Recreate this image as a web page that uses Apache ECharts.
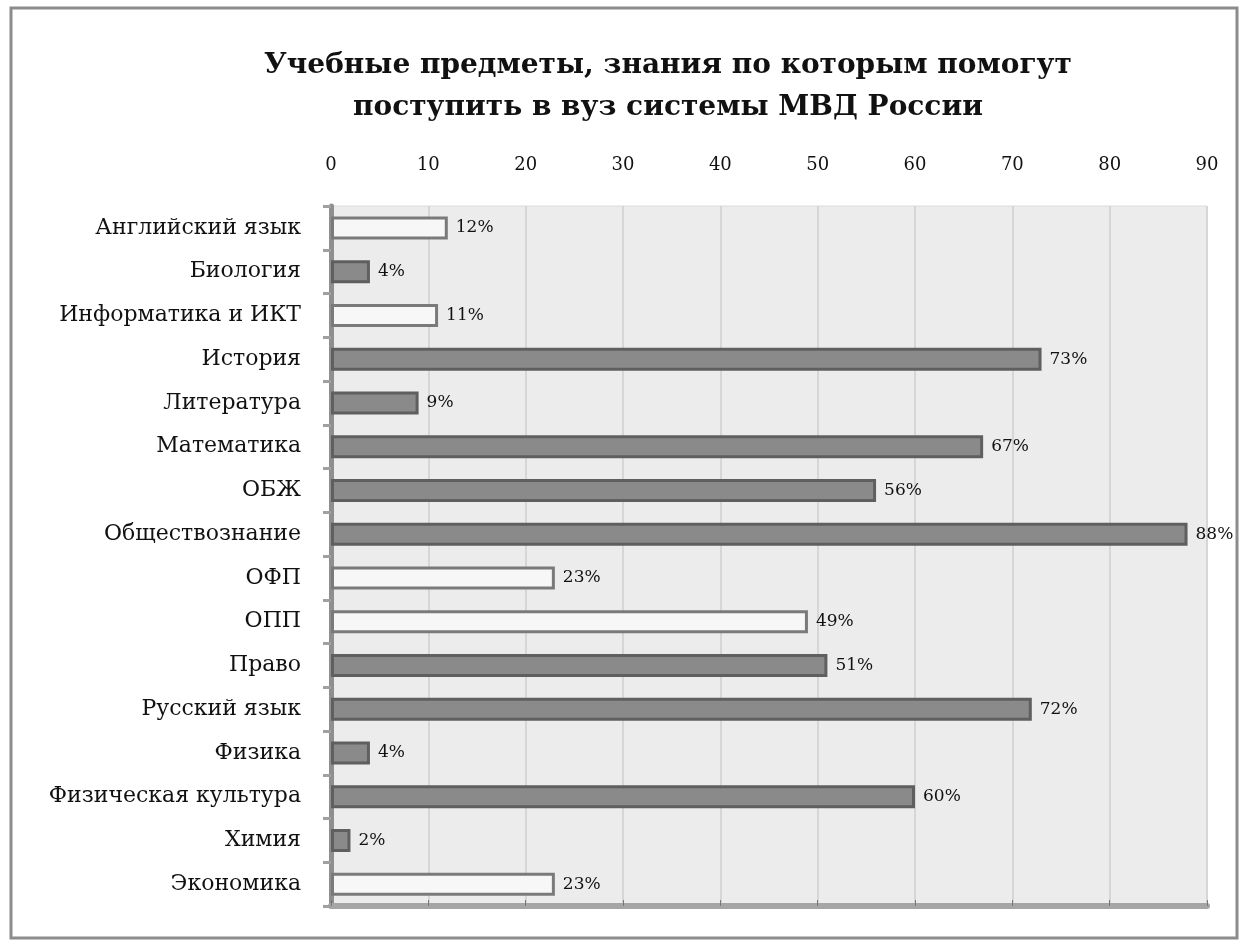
<!DOCTYPE html>
<html>
<head>
<meta charset="utf-8">
<script src="https://cdn.jsdelivr.net/npm/echarts@6/dist/echarts.min.js"></script>
<style>
  html, body { margin: 0; padding: 0; background: #fff; }
  #chart { width: 1241px; height: 942px; }
</style>
</head>
<body>
<div id="chart"></div>
<script>
// subjects, top to bottom
var subjects = [
    'Английский язык', 'Биология', 'Информатика и ИКТ', 'История',
    'Литература', 'Математика', 'ОБЖ', 'Обществознание', 'ОФП', 'ОПП',
    'Право', 'Русский язык', 'Физика', 'Физическая культура', 'Химия', 'Экономика'
];
// share of answers, %
var shares = [12, 4, 11, 73, 9, 67, 56, 88, 23, 49, 51, 72, 4, 60, 2, 23];
// bars drawn light instead of gray
var lightBars = [1, 0, 1, 0, 0, 0, 0, 0, 1, 1, 0, 0, 0, 0, 0, 1];
var axisTicks = { min: 0, max: 90, step: 10 };

var serif = '"DejaVu Serif", "Liberation Serif", serif';

var chart = echarts.init(document.getElementById('chart'));

var barData = shares.map(function (v, i) {
    return {
        value: v,
        itemStyle: lightBars[i] ? {
            color: '#f7f7f7',
            borderColor: '#7a7a7a'
        } : {
            color: '#8a8a8a',
            borderColor: '#5f5f5f'
        }
    };
});

var option = {
    backgroundColor: '#fff',
    animation: false,

    // frame around the picture
    graphic: [{
        type: 'rect',
        shape: { x: 11, y: 8, width: 1226, height: 930 },
        style: { fill: 'none', stroke: '#8c8c8c', lineWidth: 3 },
        silent: true
    }],

    title: {
        text: 'Учебные предметы, знания по которым помогут\nпоступить в вуз системы МВД России',
        left: 663,
        textAlign: 'center',
        top: 40,
        textStyle: {
            fontFamily: serif,
            fontSize: 28,
            fontWeight: 'bold',
            color: '#111',
            lineHeight: 42
        }
    },

    grid: {
        left: 331,
        right: 34,
        top: 206,
        bottom: 36,
        show: true,
        backgroundColor: '#ececec',
        borderColor: '#dcdcdc'
    },

    xAxis: [{
        type: 'value',
        position: 'top',
        min: axisTicks.min,
        max: axisTicks.max,
        interval: axisTicks.step,
        axisLine: { show: false },
        axisTick: { show: false },
        axisLabel: {
            fontFamily: serif,
            fontSize: 18,
            color: '#111',
            margin: 32
        },
        splitLine: { lineStyle: { color: '#d6d6d6', width: 2 } }
    }, {
        type: 'value',
        position: 'bottom',
        min: axisTicks.min,
        max: axisTicks.max,
        interval: axisTicks.step,
        axisLine: { show: true, lineStyle: { color: '#a6a6a6', width: 6 } },
        axisTick: { show: true, inside: true, length: 6, lineStyle: { color: '#777' } },
        axisLabel: { show: false },
        splitLine: { show: false }
    }],

    yAxis: {
        type: 'category',
        data: subjects,
        inverse: true,
        axisLine: { show: true, lineStyle: { color: '#8f8f8f', width: 5 } },
        axisTick: { show: true, length: 8, lineStyle: { color: '#a0a0a0', width: 3 } },
        axisLabel: {
            fontFamily: serif,
            fontSize: 22,
            color: '#111',
            margin: 30
        }
    },

    series: [{
        type: 'bar',
        xAxisIndex: 0,
        data: barData,
        barWidth: 23,
        itemStyle: { borderWidth: 3 },
        label: {
            show: true,
            position: 'right',
            distance: 8,
            formatter: '{c}%',
            fontFamily: serif,
            fontSize: 17,
            color: '#111'
        }
    }]
};

chart.setOption(option);
</script>
</body>
</html>
